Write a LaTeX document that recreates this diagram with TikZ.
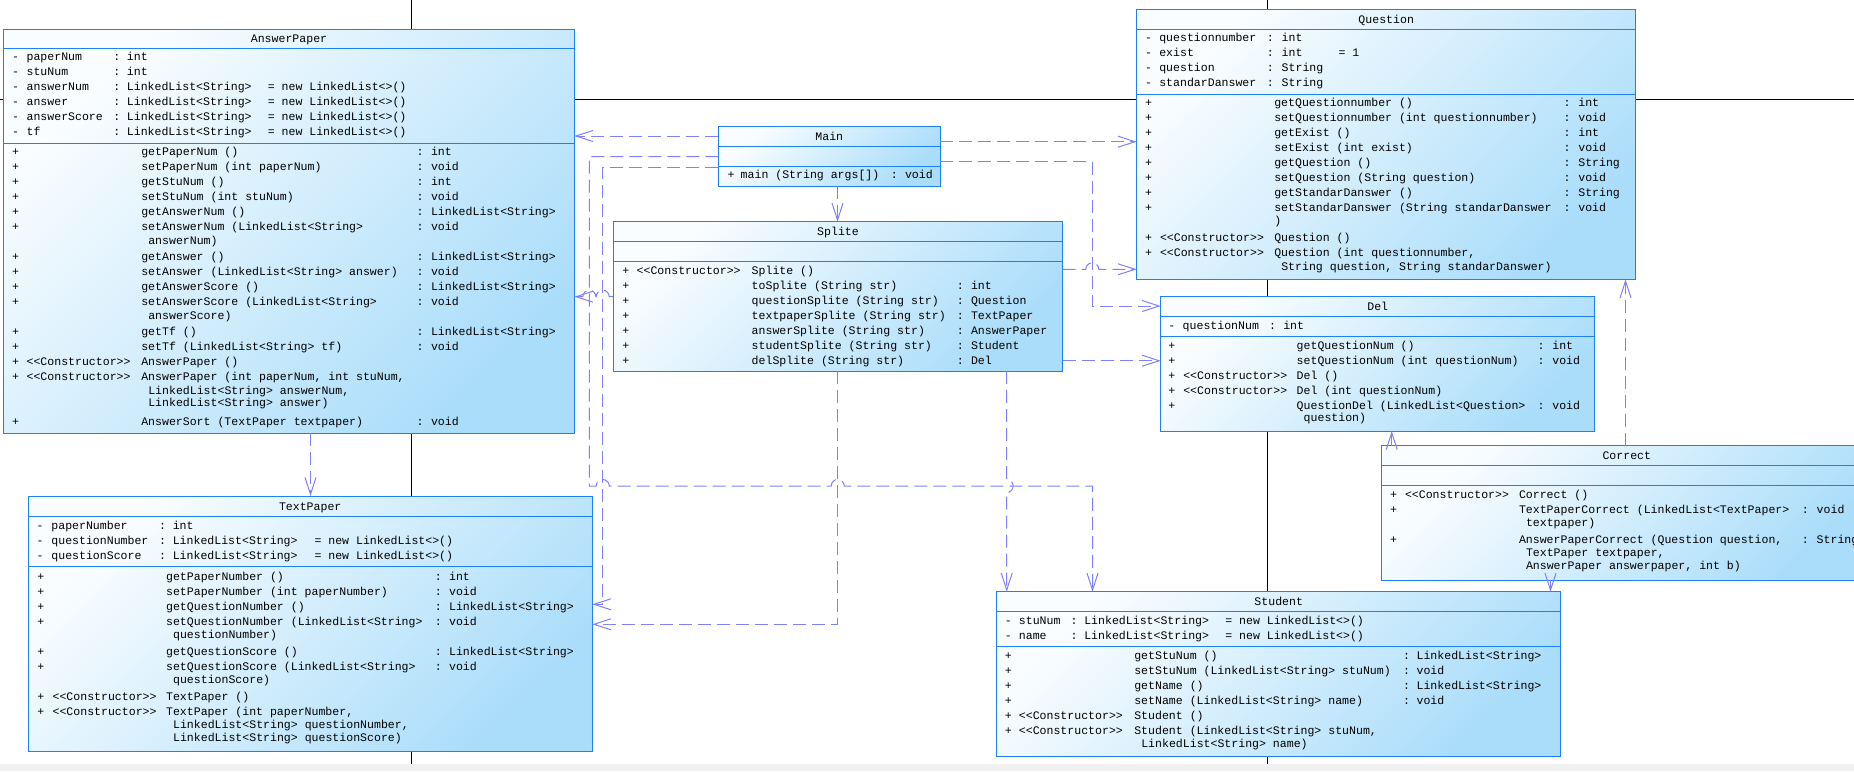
\documentclass[tikz,border=0pt]{standalone}
\usepackage{fontspec}
\setmonofont{Liberation Mono}
\usetikzlibrary{arrows.meta}
\definecolor{bord}{RGB}{30,128,245}
\definecolor{depc}{RGB}{128,128,255}
\definecolor{shadeA}{RGB}{250,253,255}
\definecolor{shadeB}{RGB}{170,221,250}
\definecolor{stripc}{RGB}{240,240,240}
\tikzset{
  box/.style={rectangle, draw=bord, line width=1pt, inner sep=0pt, outer sep=0pt, anchor=north west, top color=shadeA, bottom color=shadeB, shading angle=45},
  sepline/.style={draw=bord, line width=1pt},
  dep/.style={draw=depc, line width=1pt, dash pattern=on 13pt off 6pt, -{Straight Barb[length=17pt,width=11pt]}},
  txt/.style={anchor=base west, inner sep=0pt, outer sep=0pt, font=\ttfamily\fontsize{11.55}{13}\selectfont, text=black},
  ttlstyle/.style={txt, anchor=base},
  pageline/.style={draw=black, line width=1pt},
}
\newcount\txtn
\newcommand\tx[3]{\global\advance\txtn by 1\relax
  \node[txt] (tx\the\txtn) at (#1,{#2+4}) {#3};}
\newcommand\boxtitle[3]{\global\advance\txtn by 1\relax
  \node[ttlstyle] (tx\the\txtn) at (#1,{#2+4}) {#3};}
\newcommand\attr[4]{\tx{\aM}{#1}{-}\tx{\aN}{#1}{#2}\tx{\aC}{#1}{:}\tx{\aT}{#1}{#3}%
  \if\relax\detokenize{#4}\relax\else\tx{\aI}{#1}{#4}\fi}
\newcommand\meth[4]{\tx{\cP}{#1}{+}%
  \if\relax\detokenize{#2}\relax\else\tx{\cS}{#1}{#2}\fi
  \tx{\cN}{#1}{#3}%
  \if\relax\detokenize{#4}\relax\else\tx{\cC}{#1}{:}\tx{\cR}{#1}{#4}\fi}
\newcommand\cont[2]{\tx{\cK}{#1}{#2}}
\newcommand\ctor{<<Constructor>>}
\def\aM{0}\def\aN{0}\def\aC{0}\def\aT{0}\def\aI{0}
\def\cP{0}\def\cS{0}\def\cN{0}\def\cK{0}\def\cC{0}\def\cR{0}
\begin{document}
\begin{tikzpicture}[x=1pt,y=-1pt]
\useasboundingbox (0,0) rectangle (1854,771);
\clip (0,0) rectangle (1854,771);
\fill[white] (0,0) rectangle (1854,771);
\fill[stripc] (0,764) rectangle (1854,771);
% page break lines
\draw[pageline] (411.5,0) -- (411.5,764);
\draw[pageline] (1267.5,0) -- (1267.5,764);
\draw[pageline] (0,99.5) -- (1854,99.5);
% boxes
\node[box, minimum width=570.6pt, minimum height=404pt] (ap) at (3.7,29.3) {};
\node[box, minimum width=222pt, minimum height=60.3pt] (main) at (718.3,126) {};
\node[box, minimum width=449.4pt, minimum height=149.3pt] (sp) at (613.3,221.7) {};
\node[box, minimum width=499pt, minimum height=270pt] (q) at (1136.7,9.3) {};
\node[box, minimum width=434pt, minimum height=135pt] (del) at (1160.7,296) {};
\node[box, minimum width=490.3pt, minimum height=134.6pt] (cor) at (1381.7,445.7) {};
\node[box, minimum width=564.1pt, minimum height=164.3pt] (stu) at (996.7,591.7) {};
\node[box, minimum width=564.2pt, minimum height=255pt] (tp) at (28.1,496) {};
% compartment lines
\draw[sepline] (ap.west |- 0,48.3) -- (ap.east |- 0,48.3);
\draw[sepline] (ap.west |- 0,143.3) -- (ap.east |- 0,143.3);
\draw[sepline] (main.west |- 0,146) -- (main.east |- 0,146);
\draw[sepline] (main.west |- 0,166) -- (main.east |- 0,166);
\draw[sepline] (sp.west |- 0,241.7) -- (sp.east |- 0,241.7);
\draw[sepline] (sp.west |- 0,261.7) -- (sp.east |- 0,261.7);
\draw[sepline] (q.west |- 0,29.3) -- (q.east |- 0,29.3);
\draw[sepline] (q.west |- 0,94.3) -- (q.east |- 0,94.3);
\draw[sepline] (del.west |- 0,316.7) -- (del.east |- 0,316.7);
\draw[sepline] (del.west |- 0,336.7) -- (del.east |- 0,336.7);
\draw[sepline] (cor.west |- 0,465.7) -- (cor.east |- 0,465.7);
\draw[sepline] (cor.west |- 0,485.7) -- (cor.east |- 0,485.7);
\draw[sepline] (stu.west |- 0,611.7) -- (stu.east |- 0,611.7);
\draw[sepline] (stu.west |- 0,646) -- (stu.east |- 0,646);
\draw[sepline] (tp.west |- 0,516.7) -- (tp.east |- 0,516.7);
\draw[sepline] (tp.west |- 0,566.7) -- (tp.east |- 0,566.7);
% connectors
\draw[dep] (main.west |- 0,136) -- (ap.east |- 0,136);
\draw[dep] (main.west |- 0,156.7) -- (589.3,156.7) -- (589.3,486) -- (596.2,486) arc[start angle=180,end angle=0,radius=6.5pt] -- (831.2,486) arc[start angle=180,end angle=0,radius=6.5pt] -- (1092.5,486) -- (stu.north -| 1092.5,0);
\draw[dep] (main.west |- 0,167.3) -- (602.7,167.3) -- (602.7,604.3) -- (tp.east |- 0,604.3);
\draw[dep] (main.south -| 837.5,0) -- (sp.north -| 837.5,0);
\draw[dep] (main.east |- 0,141.7) -- (q.west |- 0,141.7);
\draw[dep] (main.east |- 0,161.7) -- (1092.3,161.7) -- (1092.3,306) -- (del.west |- 0,306);
\draw[dep] (sp.west |- 0,296.7) -- (609.2,296.7) arc[start angle=0,end angle=180,radius=6.5pt] -- (595.8,296.7) arc[start angle=0,end angle=180,radius=6.5pt] -- (ap.east |- 0,296.7);
\draw[dep] (sp.east |- 0,269.3) -- (1085.8,269.3) arc[start angle=180,end angle=0,radius=6.5pt] -- (q.west |- 0,269.3);
\draw[dep] (sp.east |- 0,360.7) -- (del.west |- 0,360.7);
\draw[dep] (sp.south -| 837.7,0) -- (837.7,624.3) -- (tp.east |- 0,624.3);
\draw[dep] (sp.south -| 1006.7,0) -- (1006.7,479.5) arc[start angle=90,end angle=-90,radius=6.5pt] -- (stu.north -| 1006.7,0);
\draw[dep] (ap.south -| 310.5,0) -- (tp.north -| 310.5,0);
\draw[dep] (cor.north -| 1391.7,0) -- (del.south -| 1391.7,0);
\draw[dep] (cor.north -| 1625.5,0) -- (q.south -| 1625.5,0);
\draw[dep] (cor.south -| 1550.5,0) -- (stu.north -| 1550.5,0);
% ---------- AnswerPaper
\boxtitle{289}{38.8}{AnswerPaper}
\def\aM{12.2}\def\aN{26.6}\def\aC{113.3}\def\aT{126.9}\def\aI{267.8}
\attr{56.7}{paperNum}{int}{}
\attr{71.7}{stuNum}{int}{}
\attr{86.7}{answerNum}{LinkedList<String>}{= new LinkedList<>()}
\attr{101.7}{answer}{LinkedList<String>}{= new LinkedList<>()}
\attr{116.7}{answerScore}{LinkedList<String>}{= new LinkedList<>()}
\attr{131.7}{tf}{LinkedList<String>}{= new LinkedList<>()}
\def\cP{12.2}\def\cS{26.6}\def\cN{141.3}\def\cK{148.3}\def\cC{416.7}\def\cR{431}
\meth{151.7}{}{getPaperNum ()}{int}
\meth{166.7}{}{setPaperNum (int paperNum)}{void}
\meth{181.7}{}{getStuNum ()}{int}
\meth{196.7}{}{setStuNum (int stuNum)}{void}
\meth{211.7}{}{getAnswerNum ()}{LinkedList<String>}
\meth{226.7}{}{setAnswerNum (LinkedList<String>}{void}
\cont{240}{answerNum)}
\meth{256.7}{}{getAnswer ()}{LinkedList<String>}
\meth{271.7}{}{setAnswer (LinkedList<String> answer)}{void}
\meth{286.7}{}{getAnswerScore ()}{LinkedList<String>}
\meth{301.7}{}{setAnswerScore (LinkedList<String>}{void}
\cont{315}{answerScore)}
\meth{331.7}{}{getTf ()}{LinkedList<String>}
\meth{346.7}{}{setTf (LinkedList<String> tf)}{void}
\meth{361.7}{\ctor}{AnswerPaper ()}{}
\meth{376.7}{\ctor}{AnswerPaper (int paperNum, int stuNum,}{}
\cont{390}{LinkedList<String> answerNum,}
\cont{402.7}{LinkedList<String> answer)}
\meth{421.7}{}{AnswerSort (TextPaper textpaper)}{void}
% ---------- Main
\boxtitle{829.3}{136}{Main}
\def\cP{727.7}\def\cN{740.7}\def\cC{890.8}\def\cR{905}
\meth{174.3}{}{main (String args[])}{void}
% ---------- Splite
\boxtitle{838}{231.7}{Splite}
\def\cP{622.3}\def\cS{636.7}\def\cN{751.7}\def\cC{956.8}\def\cR{971}
\meth{270.7}{\ctor}{Splite ()}{}
\meth{285.7}{}{toSplite (String str)}{int}
\meth{300.7}{}{questionSplite (String str)}{Question}
\meth{315.7}{}{textpaperSplite (String str)}{TextPaper}
\meth{330.7}{}{answerSplite (String str)}{AnswerPaper}
\meth{345.7}{}{studentSplite (String str)}{Student}
\meth{360.7}{}{delSplite (String str)}{Del}
% ---------- Question
\boxtitle{1386.2}{19.3}{Question}
\def\aM{1145}\def\aN{1159.3}\def\aC{1266.8}\def\aT{1281.7}\def\aI{1338.5}
\attr{37.7}{questionnumber}{int}{}
\attr{52.7}{exist}{int}{= 1}
\attr{67.7}{question}{String}{}
\attr{82.7}{standarDanswer}{String}{}
\def\cP{1145}\def\cS{1160}\def\cN{1274.3}\def\cK{1281.3}\def\cC{1563.5}\def\cR{1578.3}
\meth{102.7}{}{getQuestionnumber ()}{int}
\meth{117.7}{}{setQuestionnumber (int questionnumber)}{void}
\meth{132.7}{}{getExist ()}{int}
\meth{147.7}{}{setExist (int exist)}{void}
\meth{162.7}{}{getQuestion ()}{String}
\meth{177.7}{}{setQuestion (String question)}{void}
\meth{192.7}{}{getStandarDanswer ()}{String}
\meth{207.7}{}{setStandarDanswer (String standarDanswer}{void}
\tx{1274.3}{220.3}{)}
\meth{237.7}{\ctor}{Question ()}{}
\meth{252.7}{\ctor}{Question (int questionnumber,}{}
\cont{266}{String question, String standarDanswer)}
% ---------- Del
\boxtitle{1377.7}{306}{Del}
\def\aM{1168.3}\def\aN{1182.7}\def\aC{1269.2}\def\aT{1283.3}
\attr{325}{questionNum}{int}{}
\def\cP{1168.3}\def\cS{1183.3}\def\cN{1296.7}\def\cK{1303.7}\def\cC{1537.5}\def\cR{1552.3}
\meth{345}{}{getQuestionNum ()}{int}
\meth{360}{}{setQuestionNum (int questionNum)}{void}
\meth{375}{\ctor}{Del ()}{}
\meth{390}{\ctor}{Del (int questionNum)}{}
\meth{405}{}{QuestionDel (LinkedList<Question>}{void}
\cont{417.3}{question)}
% ---------- Correct
\boxtitle{1626.8}{455.7}{Correct}
\def\cP{1390}\def\cS{1405}\def\cN{1519}\def\cK{1526}\def\cC{1801.8}\def\cR{1816.7}
\meth{494}{\ctor}{Correct ()}{}
\meth{509}{}{TextPaperCorrect (LinkedList<TextPaper>}{void}
\cont{522.3}{textpaper)}
\meth{539}{}{AnswerPaperCorrect (Question question,}{String}
\cont{552.3}{TextPaper textpaper,}
\cont{565}{AnswerPaper answerpaper, int b)}
% ---------- Student
\boxtitle{1278.7}{601.7}{Student}
\def\aM{1004.8}\def\aN{1018.9}\def\aC{1070.7}\def\aT{1084.3}\def\aI{1225.3}
\attr{620}{stuNum}{LinkedList<String>}{= new LinkedList<>()}
\attr{635}{name}{LinkedList<String>}{= new LinkedList<>()}
\def\cP{1004.8}\def\cS{1018.9}\def\cN{1134.3}\def\cK{1141.3}\def\cC{1403}\def\cR{1416.6}
\meth{655}{}{getStuNum ()}{LinkedList<String>}
\meth{670}{}{setStuNum (LinkedList<String> stuNum)}{void}
\meth{685}{}{getName ()}{LinkedList<String>}
\meth{700}{}{setName (LinkedList<String> name)}{void}
\meth{715}{\ctor}{Student ()}{}
\meth{730}{\ctor}{Student (LinkedList<String> stuNum,}{}
\cont{743.3}{LinkedList<String> name)}
% ---------- TextPaper
\boxtitle{310.2}{506}{TextPaper}
\def\aM{36.6}\def\aN{51.4}\def\aC{159.2}\def\aT{172.8}\def\aI{314.5}
\attr{525.7}{paperNumber}{int}{}
\attr{540.7}{questionNumber}{LinkedList<String>}{= new LinkedList<>()}
\attr{555.7}{questionScore}{LinkedList<String>}{= new LinkedList<>()}
\def\cP{37.4}\def\cS{52.6}\def\cN{166.1}\def\cK{173.1}\def\cC{434.8}\def\cR{449.1}
\meth{576}{}{getPaperNumber ()}{int}
\meth{591}{}{setPaperNumber (int paperNumber)}{void}
\meth{606}{}{getQuestionNumber ()}{LinkedList<String>}
\meth{621}{}{setQuestionNumber (LinkedList<String>}{void}
\cont{634.3}{questionNumber)}
\meth{651}{}{getQuestionScore ()}{LinkedList<String>}
\meth{666}{}{setQuestionScore (LinkedList<String>}{void}
\cont{679}{questionScore)}
\meth{696}{\ctor}{TextPaper ()}{}
\meth{711}{\ctor}{TextPaper (int paperNumber,}{}
\cont{724}{LinkedList<String> questionNumber,}
\cont{737.3}{LinkedList<String> questionScore)}
\end{tikzpicture}
\end{document}
